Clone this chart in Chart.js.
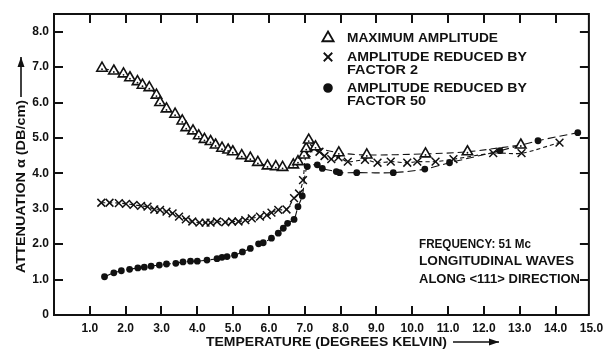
<!DOCTYPE html>
<html><head><meta charset="utf-8">
<script src="https://cdn.jsdelivr.net/npm/chart.js@4/dist/chart.umd.min.js"></script>
<style>html,body{margin:0;padding:0;background:#fff;overflow:hidden}canvas{display:block}</style>
</head><body>
<canvas id="c" width="609" height="351"></canvas>
<script>
const xTickValues = [1,2,3,4,5,6,7,8,9,10,11,12,13,14,15];
const xTickLabels = ['1.0','2.0','3.0','4.0','5.0','6.0','7.0','8.0','9.0','10.0','11.0','12.0','13.0','14.0','15.0'];
const yTickValues = [0,1,2,3,4,5,6,7,8];
const yTickLabels = ['0','1.0','2.0','3.0','4.0','5.0','6.0','7.0','8.0'];

const seriesNames = ['MAXIMUM AMPLITUDE', 'AMPLITUDE REDUCED BY FACTOR 2', 'AMPLITUDE REDUCED BY FACTOR 50'];

const maxAmpT = [1.34,1.67,1.94,2.12,2.33,2.47,2.66,2.86,2.96,3.14,3.38,3.58,3.69,3.88,4.04,4.20,4.37,4.51,4.69,4.86,4.99,5.24,5.48,5.69,5.96,6.19,6.38,6.68,6.81,6.98,7.04,7.11,7.30,7.95,8.73,10.37,11.54,13.03];
const maxAmpA = [6.97,6.89,6.81,6.70,6.59,6.49,6.42,6.21,6.00,5.82,5.67,5.48,5.29,5.20,5.06,4.96,4.90,4.80,4.71,4.66,4.61,4.50,4.43,4.31,4.21,4.19,4.17,4.24,4.33,4.52,4.70,4.94,4.75,4.58,4.52,4.55,4.61,4.80];

const half2T = [1.32,1.55,1.81,2.01,2.22,2.43,2.61,2.80,2.96,3.14,3.31,3.49,3.68,3.86,4.06,4.23,4.37,4.55,4.78,4.97,5.15,5.34,5.52,5.75,5.94,6.07,6.26,6.49,6.70,6.84,6.95,7.05,7.26,7.41,7.55,7.74,7.94,8.20,8.68,9.03,9.40,9.86,10.14,10.65,11.15,12.26,13.05,14.11];
const half2A = [3.17,3.17,3.16,3.14,3.11,3.08,3.06,2.98,2.97,2.92,2.87,2.78,2.70,2.64,2.61,2.61,2.61,2.64,2.62,2.64,2.64,2.68,2.73,2.78,2.82,2.89,2.97,2.98,3.30,3.43,3.81,4.57,4.71,4.61,4.49,4.40,4.45,4.33,4.38,4.30,4.33,4.30,4.33,4.33,4.40,4.57,4.57,4.87];

const red50T = [1.41,1.67,1.88,2.11,2.34,2.52,2.71,2.94,3.14,3.40,3.60,3.81,4.00,4.27,4.55,4.69,4.83,5.04,5.26,5.48,5.71,5.84,6.07,6.26,6.40,6.52,6.70,6.81,6.93,7.07,7.35,7.49,7.88,7.97,8.45,9.47,10.35,11.04,12.45,13.51,14.62];
const red50A = [1.08,1.19,1.25,1.29,1.33,1.35,1.38,1.41,1.44,1.46,1.50,1.52,1.52,1.55,1.59,1.63,1.65,1.69,1.78,1.88,2.01,2.04,2.17,2.31,2.45,2.59,2.70,3.06,3.36,4.19,4.24,4.14,4.05,4.02,4.02,4.02,4.12,4.30,4.64,4.92,5.15];

const zip = (t, a) => t.map((v, i) => ({x: v, y: a[i]}));
const INK = '#111';
const FONT = 'Liberation Sans';

// small centre dot inside each open triangle, at the library's point positions
const triangleDots = {
  id: 'triangleDots',
  afterDatasetsDraw(chart) {
    const ctx = chart.ctx;
    const meta = chart.getDatasetMeta(0);
    ctx.save();
    ctx.fillStyle = INK;
    meta.data.forEach(p => {
      ctx.beginPath(); ctx.arc(p.x, p.y + 1, 0.9, 0, Math.PI * 2); ctx.fill();
    });
    ctx.restore();
  }
};

const decor = {
  id: 'decor',
  afterDraw(chart) {
    const ctx = chart.ctx, a = chart.chartArea;
    const xs = chart.scales.x, ys = chart.scales.y;
    ctx.save();
    ctx.strokeStyle = INK; ctx.fillStyle = INK;
    ctx.lineWidth = 2;
    ctx.strokeRect(a.left, a.top, a.right - a.left, a.bottom - a.top);
    const TL = 9;
    ctx.beginPath();
    xTickValues.forEach(v => {
      const px = Math.round(xs.getPixelForValue(v));
      if (px >= a.right - 1) return;
      ctx.moveTo(px, a.bottom); ctx.lineTo(px, a.bottom - TL);
      ctx.moveTo(px, a.top); ctx.lineTo(px, a.top + TL);
    });
    yTickValues.forEach(v => {
      const py = Math.round(ys.getPixelForValue(v));
      if (py >= a.bottom - 1) return;
      ctx.moveTo(a.left, py); ctx.lineTo(a.left + TL, py);
      ctx.moveTo(a.right, py); ctx.lineTo(a.right - TL, py);
    });
    ctx.stroke();

    const arrow = (x1, y1, x2, y2) => {
      ctx.lineWidth = 1.6;
      ctx.beginPath(); ctx.moveTo(x1, y1); ctx.lineTo(x2, y2); ctx.stroke();
      const ang = Math.atan2(y2 - y1, x2 - x1), L = 10, W = 3.5;
      ctx.beginPath();
      ctx.moveTo(x2, y2);
      ctx.lineTo(x2 - L * Math.cos(ang) + W * Math.sin(ang), y2 - L * Math.sin(ang) - W * Math.cos(ang));
      ctx.lineTo(x2 - L * Math.cos(ang) - W * Math.sin(ang), y2 - L * Math.sin(ang) + W * Math.cos(ang));
      ctx.closePath(); ctx.fill();
    };
    // text stretched/condensed horizontally to the reference lettering width
    const fit = (str, x, y, w, size) => {
      ctx.font = 'bold ' + size + 'px "' + FONT + '"';
      const m = ctx.measureText(str).width;
      ctx.save();
      ctx.translate(x, y);
      ctx.scale(w / m, 1);
      ctx.textAlign = 'left';
      ctx.textBaseline = 'middle';
      ctx.fillText(str, 0, 0);
      ctx.restore();
    };

    // axis titles
    fit('TEMPERATURE (DEGREES KELVIN)', 206, 342, 241, 13);
    arrow(453, 342, 499, 342);

    ctx.save();
    ctx.translate(21, 273);
    ctx.rotate(-Math.PI / 2);
    fit('ATTENUATION \u03b1 (DB/cm)', 0, 0, 173, 13.5);
    ctx.restore();
    arrow(21, 97, 21, 57);

    // legend
    const ds = chart.data.datasets;
    const mk = (i, x, y) => {
      const d = ds[i];
      ctx.save();
      ctx.lineWidth = 1.8;
      ctx.strokeStyle = INK;
      ctx.fillStyle = d.pointBackgroundColor;
      Chart.helpers.drawPoint(ctx, {pointStyle: d.pointStyle, radius: d.pointRadius + 0.5, rotation: 0, borderWidth: 1.8}, x, y);
      ctx.restore();
    };
    mk(0, 328, 38); fit('MAXIMUM AMPLITUDE', 347, 38, 151, 13);
    mk(1, 328, 57); fit('AMPLITUDE REDUCED BY', 347, 57, 180, 13);
    fit('FACTOR 2', 347, 70.5, 71, 13);
    mk(2, 328, 88); fit('AMPLITUDE REDUCED BY', 347, 88, 180, 13);
    fit('FACTOR 50', 347, 101.5, 79, 13);

    // annotation
    fit('FREQUENCY: 51 Mc', 419, 245, 112, 12.5);
    fit('LONGITUDINAL WAVES', 419, 262, 155, 12.5);
    fit('ALONG <111> DIRECTION', 419, 279.5, 161, 12.5);
    ctx.restore();
  }
};

Chart.defaults.font.family = FONT;
Chart.defaults.font.size = 12;
Chart.defaults.font.weight = 'bold';
Chart.defaults.color = INK;

new Chart(document.getElementById('c'), {
  type: 'scatter',
  data: {
    datasets: [
      {label: seriesNames[0], data: zip(maxAmpT, maxAmpA), showLine: true,
       borderColor: INK, borderWidth: 1.1, borderDash: [7, 4], tension: 0.3,
       pointStyle: 'triangle', pointRadius: 6, pointBackgroundColor: '#fff', pointBorderColor: INK, pointBorderWidth: 1.6},
      {label: seriesNames[1], data: zip(half2T, half2A), showLine: true,
       borderColor: INK, borderWidth: 1.1, borderDash: [4, 3], tension: 0.3,
       pointStyle: 'crossRot', pointRadius: 5.5, pointBackgroundColor: INK, pointBorderColor: INK, pointBorderWidth: 1.5},
      {label: seriesNames[2], data: zip(red50T, red50A), showLine: true,
       borderColor: INK, borderWidth: 1.1, borderDash: [8, 4], tension: 0.3,
       pointStyle: 'circle', pointRadius: 3.4, pointBackgroundColor: INK, pointBorderColor: INK, pointBorderWidth: 0}
    ]
  },
  options: {
    responsive: false,
    animation: false,
    devicePixelRatio: 1,
    layout: {padding: {top: 14, right: 16, left: 0, bottom: 0}},
    plugins: {legend: {display: false}, tooltip: {enabled: false}},
    scales: {
      x: {
        type: 'linear', min: 0, max: 14.93,
        afterBuildTicks: s => { s.ticks = xTickValues.map(v => ({value: v})); },
        afterFit: s => { s.height = 36; },
        ticks: {padding: 6, maxRotation: 0, autoSkip: false, callback: (v) => xTickLabels[xTickValues.indexOf(v)]},
        grid: {display: false, drawTicks: false},
        border: {display: false}
      },
      y: {
        type: 'linear', min: 0, max: 8.5,
        afterBuildTicks: s => { s.ticks = yTickValues.map(v => ({value: v})); },
        afterFit: s => { s.width = 54; },
        ticks: {padding: 5, autoSkip: false, callback: (v) => yTickLabels[yTickValues.indexOf(v)]},
        grid: {display: false, drawTicks: false},
        border: {display: false}
      }
    }
  },
  plugins: [triangleDots, decor]
});
</script>
</body></html>
